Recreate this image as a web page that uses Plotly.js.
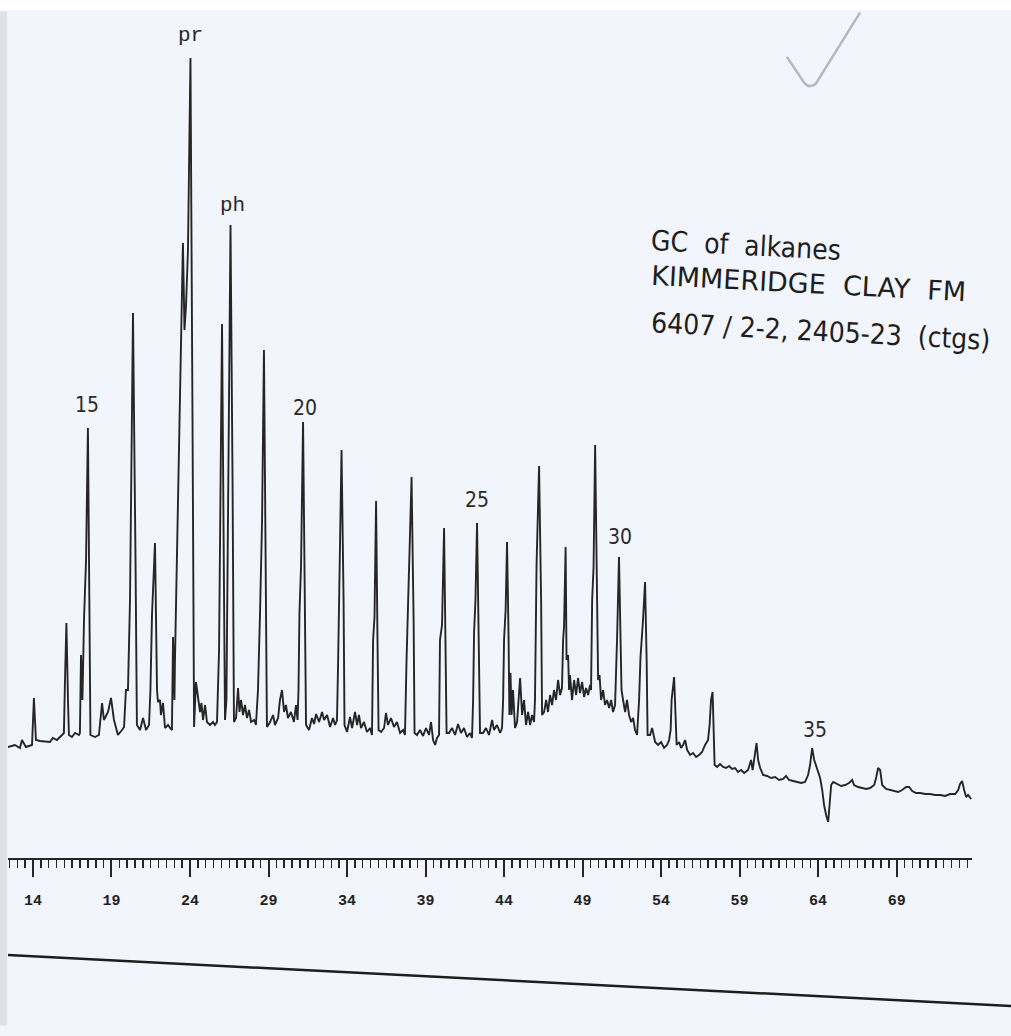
<!DOCTYPE html>
<html>
<head>
<meta charset="utf-8">
<script src="https://cdn.plot.ly/plotly-3.0.1.min.js"></script>
<style>html,body{margin:0;padding:0;background:#f2f5fb;}#chart{width:1011px;height:1036px;}</style>
</head>
<body>
<div id="chart"></div>
<script>
// Retention time (min)
var retentionTime = [
12.41,12.85,13.17,13.30,13.55,13.87,13.94,14.06,14.19,14.45,15.08,15.27,15.53,15.85,15.97,16.04,16.13,16.23,16.29,16.48,
16.68,16.93,16.99,17.06,17.15,17.25,17.38,17.50,17.60,17.66,17.95,18.20,18.40,18.52,18.78,18.97,19.16,19.41,19.67,19.80,
19.92,20.05,20.18,20.37,20.53,20.62,20.82,21.01,21.20,21.39,21.48,21.58,21.77,21.90,21.96,22.09,22.15,22.28,22.41,22.60,
22.73,22.85,22.92,23.01,23.04,23.17,23.36,23.49,23.55,23.65,23.75,23.87,24.03,24.16,24.26,24.38,24.51,24.64,24.73,24.83,
24.96,25.08,25.27,25.47,25.59,25.72,25.85,26.04,26.17,26.23,26.32,26.42,26.58,26.71,26.80,26.93,27.06,27.15,27.25,27.38,
27.50,27.63,27.76,27.89,28.08,28.20,28.33,28.46,28.59,28.71,28.84,28.90,29.10,29.29,29.41,29.61,29.73,29.86,29.99,30.11,
30.24,30.43,30.62,30.75,30.85,30.91,30.97,31.07,31.20,31.32,31.39,31.58,31.77,31.90,32.03,32.22,32.41,32.54,32.73,32.92,
33.11,33.24,33.36,33.43,33.52,33.65,33.78,33.84,34.00,34.19,34.32,34.51,34.64,34.76,34.89,35.08,35.27,35.47,35.59,35.66,
35.75,35.85,35.94,36.01,36.17,36.36,36.48,36.61,36.80,36.99,37.18,37.38,37.57,37.69,37.79,37.89,38.01,38.11,38.24,38.30,
38.46,38.65,38.84,39.03,39.22,39.35,39.48,39.61,39.73,39.86,39.92,40.05,40.18,40.27,40.34,40.50,40.69,40.88,41.07,41.26,
41.45,41.64,41.83,41.96,42.03,42.09,42.18,42.28,42.41,42.47,42.66,42.85,43.04,43.24,43.36,43.55,43.75,43.87,43.94,44.00,
44.10,44.19,44.29,44.34,44.41,44.48,44.57,44.70,44.83,45.02,45.15,45.27,45.40,45.53,45.66,45.78,45.91,45.97,46.07,46.23,
46.36,46.42,46.55,46.68,46.80,46.93,47.06,47.18,47.31,47.44,47.57,47.69,47.76,47.82,47.92,47.98,48.08,48.14,48.20,48.33,
48.46,48.59,48.71,48.84,48.97,49.10,49.22,49.35,49.48,49.54,49.61,49.70,49.80,49.92,49.99,50.08,50.18,50.31,50.43,50.56,
50.69,50.82,50.94,51.07,51.13,51.20,51.32,51.42,51.48,51.58,51.71,51.83,51.96,52.09,52.22,52.34,52.47,52.60,52.69,52.85,
52.98,53.08,53.14,53.30,53.43,53.62,53.81,54.00,54.19,54.38,54.51,54.61,54.67,54.83,54.92,54.99,55.15,55.27,55.40,55.53,
55.66,55.85,56.04,56.23,56.42,56.61,56.80,56.99,57.09,57.18,57.28,57.34,57.41,57.57,57.76,57.95,58.14,58.33,58.52,58.71,
58.90,59.10,59.29,59.54,59.73,59.83,59.99,60.08,60.18,60.31,60.50,60.75,61.01,61.26,61.52,61.77,61.96,62.15,62.41,62.66,
62.92,63.17,63.36,63.49,63.62,63.75,63.94,64.13,64.26,64.38,64.51,64.64,64.73,64.83,64.96,65.21,65.47,65.72,65.97,66.17,
66.29,66.55,66.80,67.06,67.31,67.57,67.69,67.82,67.95,68.08,68.33,68.59,68.84,69.10,69.35,69.61,69.80,69.99,70.24,70.50,
70.82,71.13,71.45,71.77,72.09,72.41,72.73,72.92,73.04,73.17,73.30,73.43,73.55,73.75
];
// Detector response (arbitrary units)
var detectorSignal = [
5.3,5.5,5.2,6.0,5.3,5.5,5.5,10.2,6.0,5.9,5.8,6.2,6.0,6.5,6.7,12.0,17.7,10.0,6.5,6.3,
6.7,6.5,6.7,14.5,10.0,18.0,24.0,37.2,20.0,6.5,6.3,6.5,9.7,8.0,8.8,10.2,8.0,6.5,7.0,7.3,
11.0,11.0,20.0,48.7,24.0,7.5,7.0,8.2,7.0,7.5,11.0,18.5,25.7,11.0,9.8,10.0,8.5,9.7,7.2,7.5,
7.2,7.0,16.3,10.0,13.7,24.0,40.0,50.0,55.7,47.0,49.5,55.0,74.2,38.0,7.3,11.8,10.0,8.8,9.7,8.0,
9.5,7.8,7.5,7.8,7.5,7.8,15.0,47.6,20.0,8.0,10.0,30.0,57.5,32.0,7.8,8.2,11.2,8.8,10.0,8.5,
9.5,8.2,9.0,7.8,8.0,7.5,11.0,18.7,28.0,45.0,24.0,7.3,7.8,8.5,7.5,8.2,10.0,11.0,8.8,9.5,
8.2,8.8,7.8,9.5,8.0,11.0,18.7,23.3,37.8,20.0,7.5,7.0,8.2,7.6,8.6,7.8,8.8,8.0,8.5,7.3,
8.2,7.5,8.0,13.5,22.5,35.0,20.0,7.5,6.8,8.3,7.2,8.8,7.5,8.5,7.2,7.8,6.8,7.2,6.5,16.0,
18.3,29.9,16.0,7.0,6.8,7.2,8.7,7.5,8.2,7.3,7.8,6.7,7.0,6.5,14.0,19.5,26.0,32.3,18.0,6.7,
6.5,7.0,6.4,7.2,6.5,7.8,6.0,5.5,6.2,6.5,16.0,17.5,27.2,16.0,6.7,6.7,7.2,6.5,7.6,6.7,
7.2,6.3,6.7,6.2,10.0,16.7,20.0,27.7,16.0,6.7,6.7,7.2,6.5,8.0,7.0,7.5,6.7,7.2,10.0,16.0,
19.0,25.8,16.0,8.5,12.7,8.5,11.0,7.2,7.8,12.2,8.5,10.0,7.5,8.8,7.5,8.5,7.8,10.0,23.5,33.4,
20.0,8.5,8.8,10.0,8.8,10.5,9.5,11.0,10.0,12.0,10.5,11.2,16.0,17.3,25.3,14.0,14.5,11.0,12.5,10.0,
12.0,10.5,12.2,10.7,11.8,10.3,11.2,10.5,11.5,11.0,20.0,23.3,35.5,18.0,12.0,12.5,10.0,11.0,9.5,10.0,
9.2,10.0,8.8,9.5,12.0,16.3,24.3,16.0,11.0,10.0,8.8,10.0,8.5,7.8,8.2,7.0,6.5,10.0,14.3,18.0,
21.8,14.0,6.5,6.5,7.2,5.8,5.5,5.8,5.2,5.5,6.0,7.0,10.0,12.3,8.0,5.5,5.8,5.2,5.5,6.0,
5.0,4.5,4.7,4.3,4.5,4.8,5.5,6.0,7.5,10.0,10.8,8.0,3.5,3.3,3.6,3.3,3.2,3.4,3.1,3.2,
2.8,3.0,2.7,3.0,4.0,3.0,5.0,5.7,4.0,3.2,2.5,2.4,2.2,2.3,2.0,2.1,2.4,2.0,1.9,1.8,
1.7,1.8,2.5,3.5,5.2,4.0,3.0,2.2,1.0,-0.5,-1.5,-2.2,-0.5,1.5,1.8,1.6,1.4,1.5,1.7,2.0,
1.5,1.3,1.2,1.1,1.2,1.5,2.2,3.2,3.0,1.5,1.1,1.0,0.9,0.8,1.0,1.3,1.3,0.9,0.7,0.7,
0.6,0.6,0.5,0.5,0.4,0.6,0.6,1.0,1.6,1.9,1.0,0.3,0.5,0.1
];
// Peak labels (carbon numbers, pristane, phytane)
var peakLabels = ['pr', 'ph', '15', '20', '25', '30', '35'];
var peakLabelTime = [24.03, 26.70, 17.44, 31.33, 42.28, 51.40, 63.80];
var peakLabelSignal = [76.5, 59.5, 39.5, 39.2, 30.0, 26.3, 7.0];
// Caption lines
var captionLines = ['GC  of  alkanes', 'KIMMERIDGE  CLAY  FM', '6407 / 2-2, 2405-23  (ctgs)'];

var annotations = [];
for (var i = 0; i < peakLabels.length; i++) {
  var typewriter = peakLabels[i] === 'pr' || peakLabels[i] === 'ph';
  annotations.push({
    x: peakLabelTime[i], y: peakLabelSignal[i], xref: 'x', yref: 'y',
    text: peakLabels[i], showarrow: false, xanchor: 'center', yanchor: 'middle',
    font: typewriter ? {family: 'Liberation Mono, Courier New, monospace', size: 21, color: '#2a2a2a'}
                     : {family: 'DejaVu Sans Condensed, DejaVu Sans, sans-serif', size: 21, color: '#2a2a2a'}
  });
}
var capY = [0.7315, 0.686, 0.628];
var capFamily = ['DejaVu Sans Condensed, DejaVu Sans, sans-serif', 'DejaVu Sans, sans-serif', 'DejaVu Sans Condensed, DejaVu Sans, sans-serif'];
var capSize = [28, 27, 28];
for (var j = 0; j < captionLines.length; j++) {
  annotations.push({
    x: 0.664, y: capY[j], xref: 'paper', yref: 'paper', text: captionLines[j],
    showarrow: false, xanchor: 'left', yanchor: 'middle', textangle: 3,
    font: {family: capFamily[j], size: capSize[j], color: '#1e1e1e'}
  });
}

var trace = {
  x: retentionTime, y: detectorSignal, type: 'scatter', mode: 'lines',
  line: {color: '#262626', width: 1.9}, hoverinfo: 'skip'
};

var layout = {
  width: 1011, height: 1036,
  margin: {l: 8, r: 39, t: 20, b: 178},
  paper_bgcolor: '#f2f5fb', plot_bgcolor: '#f2f5fb',
  showlegend: false,
  xaxis: {
    range: [12.41, 73.8], tick0: 14, dtick: 5, ticks: 'outside', ticklen: 17,
    tickwidth: 2, tickcolor: '#262626', showline: true, linewidth: 2, linecolor: '#262626',
    showgrid: false, zeroline: false, ticklabelstandoff: 10,
    tickfont: {family: 'Liberation Mono, DejaVu Sans Mono, monospace', size: 15, color: '#222', weight: 'bold'},
    minor: {dtick: 0.5, tick0: 14, ticks: 'outside', ticklen: 8, tickwidth: 1.5, tickcolor: '#262626', showgrid: false}
  },
  yaxis: {range: [-5.8, 78], visible: false, fixedrange: true},
  annotations: annotations,
  shapes: [
    {type: 'rect', xref: 'paper', yref: 'paper', x0: -0.0083, x1: -0.001, y0: -0.2, y1: 1.01,
     fillcolor: '#dde1e8', line: {width: 0}, layer: 'below'},
    {type: 'rect', xref: 'paper', yref: 'paper', x0: -0.01, x1: 1.05, y0: 1.012, y1: 1.03,
     fillcolor: '#ffffff', line: {width: 0}, layer: 'below'},
    {type: 'line', xref: 'paper', yref: 'paper', x0: 0, y0: -0.1158, x1: 1.0405, y1: -0.1766,
     line: {color: '#1e1e1e', width: 2.5}},
    {type: 'path', xref: 'paper', yref: 'paper',
     path: 'M 0.808 0.956 L 0.826 0.925 Q 0.831 0.918 0.838 0.924 L 0.884 1.009',
     line: {color: '#b4b8c0', width: 2.5}}
  ]
};

Plotly.newPlot('chart', [trace], layout, {displayModeBar: false, staticPlot: true});
</script>
</body>
</html>
